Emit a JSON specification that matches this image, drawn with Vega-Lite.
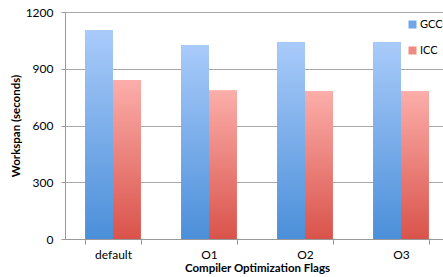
{
  "$schema": "https://vega.github.io/schema/vega-lite/v6.json",
  "autosize": "none",
  "width": 384,
  "height": 227,
  "padding": {"left": 65, "top": 12, "right": 0, "bottom": 38},
  "background": "white",
  "config": {
    "font": "Lato",
    "view": {"stroke": null},
    "axis": {"labelFont": "Lato", "titleFont": "Lato", "labelColor": "#000", "titleColor": "#000"}
  },
  "data": {
    "values": [
      {"flag": "default", "compiler": "GCC", "time": 1105},
      {"flag": "default", "compiler": "ICC", "time": 840},
      {"flag": "O1", "compiler": "GCC", "time": 1025},
      {"flag": "O1", "compiler": "ICC", "time": 785},
      {"flag": "O2", "compiler": "GCC", "time": 1040},
      {"flag": "O2", "compiler": "ICC", "time": 782},
      {"flag": "O3", "compiler": "GCC", "time": 1040},
      {"flag": "O3", "compiler": "ICC", "time": 782}
    ]
  },
  "encoding": {
    "x": {
      "field": "flag", "type": "nominal", "sort": null,
      "scale": {"paddingInner": 0.42, "paddingOuter": 0.21},
      "axis": {
        "title": "Compiler Optimization Flags",
        "titleFontSize": 11.5, "titleFontWeight": "bold", "titlePadding": 2,
        "labelAngle": 0, "labelFontSize": 12, "labelPadding": 5,
        "tickBand": "extent", "tickSize": 5, "tickColor": "#999", "domainColor": "#999"
      }
    },
    "xOffset": {"field": "compiler", "type": "nominal", "scale": {"paddingInner": 0}},
    "y": {
      "field": "time", "type": "quantitative",
      "scale": {"domain": [0, 1200], "nice": false},
      "axis": {
        "title": "Workspan (seconds)", "titleFontSize": 11.5, "titleFontWeight": "bold", "titlePadding": 4,
        "values": [0, 300, 600, 900, 1200], "format": "d", "labelFontSize": 12, "labelPadding": 8,
        "tickSize": 4, "tickColor": "#999", "domainColor": "#999",
        "grid": true, "gridColor": "#a8a8a8", "gridWidth": 1.2
      }
    }
  },
  "layer": [
    {
      "mark": {"type": "bar"},
      "encoding": {
        "color": {
          "field": "compiler", "type": "nominal",
          "scale": {"domain": ["GCC", "ICC"], "range": ["#6fa6e8", "#f08a83"]},
          "legend": {
            "title": null, "orient": "none", "legendX": 342, "legendY": 7,
            "symbolType": "square", "symbolSize": 64, "symbolStrokeWidth": 0,
            "labelFontSize": 11, "labelFont": "Lato", "rowPadding": 14, "labelOffset": 2
          }
        }
      }
    },
    {
      "transform": [{"filter": "datum.compiler === 'GCC'"}],
      "mark": {
        "type": "bar",
        "color": {
          "gradient": "linear", "x1": 0, "y1": 0, "x2": 0, "y2": 1,
          "stops": [{"offset": 0, "color": "#a9cbfa"}, {"offset": 1, "color": "#4b8fd9"}]
        }
      }
    },
    {
      "transform": [{"filter": "datum.compiler === 'ICC'"}],
      "mark": {
        "type": "bar",
        "color": {
          "gradient": "linear", "x1": 0, "y1": 0, "x2": 0, "y2": 1,
          "stops": [{"offset": 0, "color": "#fcaeaa"}, {"offset": 1, "color": "#d9534b"}]
        }
      }
    }
  ]
}
